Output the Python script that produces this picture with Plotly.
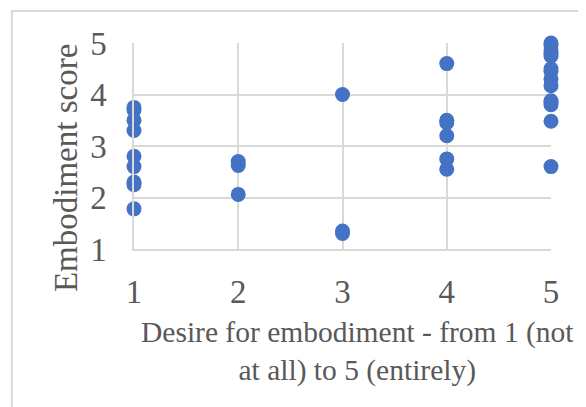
import plotly.graph_objects as go

# desire for embodiment (1-5) and embodiment score
desire_1 = [3.75, 3.7, 3.5, 3.3, 2.8, 2.6, 2.3, 2.25, 1.78]
desire_2 = [2.7, 2.62, 2.06]
desire_3 = [4.0, 1.35, 1.3]
desire_4 = [4.6, 3.5, 3.45, 3.2, 2.75, 2.55]
desire_5 = [5.0, 4.95, 4.85, 4.8, 4.75, 4.5, 4.45, 4.3, 4.17, 3.88, 3.85, 3.8, 3.48, 2.6]

groups = [desire_1, desire_2, desire_3, desire_4, desire_5]
xs, ys = [], []
for level, scores in enumerate(groups, start=1):
    xs += [level] * len(scores)
    ys += scores

font = "Liberation Serif"
grey = "#595959"

fig = go.Figure(go.Scatter(x=xs, y=ys, mode="markers",
                           marker=dict(color="#4472C4", size=15),
                           cliponaxis=False, showlegend=False))

# page has an 8px body margin, so the figure is a bit smaller than the window
fig.update_layout(
    width=578, height=399,
    margin=dict(l=126, r=35, t=35, b=158),
    paper_bgcolor="white", plot_bgcolor="white",
    font=dict(family=font, color=grey, size=30),
    xaxis=dict(range=[1, 5], tickvals=[1, 2, 3, 4, 5], showgrid=True,
               gridcolor="#d9d9d9", gridwidth=1.5, zeroline=False,
               showline=True, linecolor="#d9d9d9", linewidth=1.5,
               ticks="", ticklabelstandoff=13, tickfont=dict(size=33)),
    yaxis=dict(range=[1, 5], tickvals=[1, 2, 3, 4, 5], showgrid=True,
               gridcolor="#d9d9d9", gridwidth=1.5, zeroline=False,
               showline=True, linecolor="#d9d9d9", linewidth=1.5,
               ticks="", ticklabelstandoff=19, tickfont=dict(size=33)),
    shapes=[dict(type="rect", xref="paper", yref="paper",
                 x0=-0.293, x1=1.3, y0=-0.9, y1=1.155,
                 line=dict(color="#d9d9d9", width=2), layer="below")],
    annotations=[
        dict(text="Embodiment score", textangle=-90, xref="paper", yref="paper",
             x=-0.163, y=0.393, xanchor="center", yanchor="middle",
             showarrow=False, font=dict(size=33)),
        dict(text="Desire for embodiment - from 1 (not<br>at all) to 5 (entirely)",
             xref="paper", yref="paper", x=0.537, y=-0.315, xanchor="center",
             yanchor="top", showarrow=False, font=dict(size=29.5)),
    ],
)

fig.write_html("out.html")
